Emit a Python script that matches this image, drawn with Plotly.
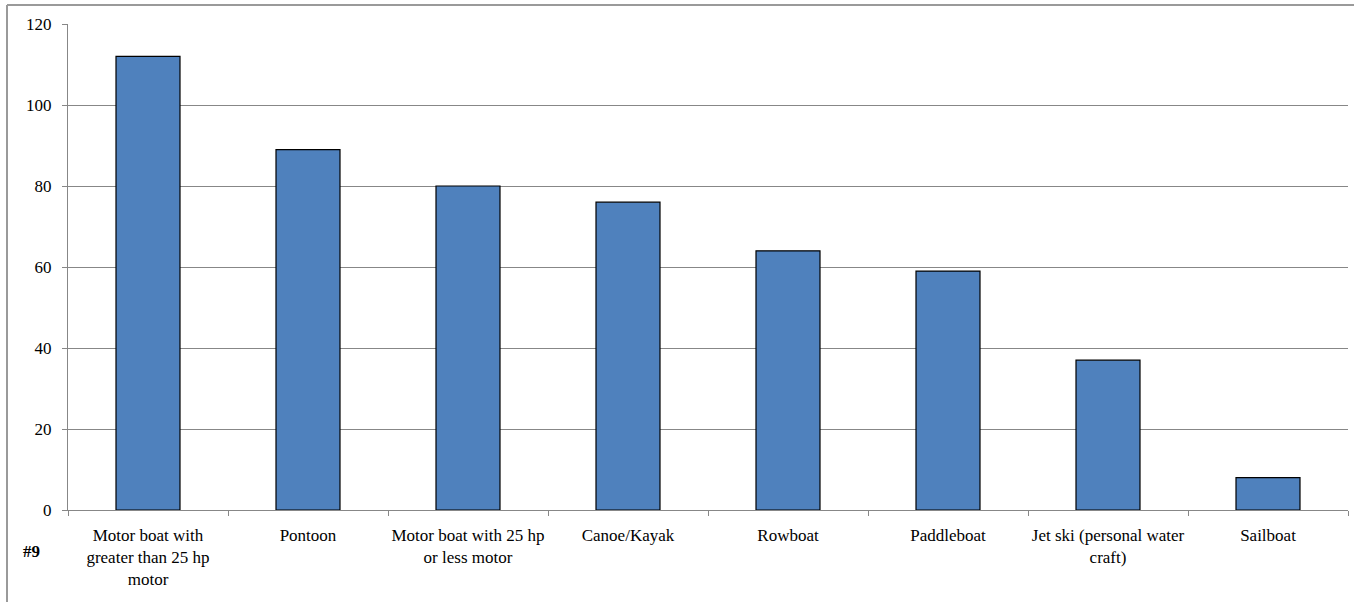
import plotly.graph_objects as go

categories = [
    "Motor boat with<br>greater than 25 hp<br>motor",
    "Pontoon",
    "Motor boat with 25 hp<br>or less motor",
    "Canoe/Kayak",
    "Rowboat",
    "Paddleboat",
    "Jet ski (personal water<br>craft)",
    "Sailboat",
]
values = [112, 89, 80, 76, 64, 59, 37, 8]
y_ticks = [0, 20, 40, 60, 80, 100, 120]

FONT = "Liberation Serif, Times New Roman, serif"
GRAY = "#878787"

fig = go.Figure(go.Bar(
    x=categories, y=values,
    marker=dict(color="#4F81BD", line=dict(color="#000000", width=1.2)),
    width=0.4,
))

L, R, T, B = 68, 6, 24, 92
W, H = 1354, 602
pw, ph = W - L - R, H - T - B

def px(x):
    return (x - L) / pw

def py(y):
    return (H - B - y) / ph

fig.update_layout(
    width=W, height=H,
    margin=dict(l=L, r=R, t=T, b=B, autoexpand=False),
    plot_bgcolor="white", paper_bgcolor="white",
    font=dict(family=FONT, size=17, color="black"),
    showlegend=False,
    bargap=0.6,
    xaxis=dict(
        type="category", range=[-0.5, 7.5], tickson="boundaries",
        ticks="outside", ticklen=5, tickcolor=GRAY, tickangle=0,
        showline=True, linecolor=GRAY, linewidth=1.2, automargin=False,
        showgrid=False, tickfont=dict(family=FONT, size=17),
        ticklabelstandoff=9,
    ),
    yaxis=dict(
        range=[0, 120], tickvals=y_ticks,
        ticks="outside", ticklen=5, tickcolor=GRAY, automargin=False,
        showline=True, linecolor=GRAY, linewidth=1.2,
        showgrid=True, gridcolor=GRAY, gridwidth=1,
        zeroline=False, tickfont=dict(family=FONT, size=17),
        ticklabelstandoff=7,
    ),
    shapes=[
        dict(type="line", xref="paper", yref="paper",
             x0=px(7), x1=px(W + 5), y0=py(5), y1=py(5),
             line=dict(color="#9a9a9a", width=2)),
        dict(type="line", xref="paper", yref="paper",
             x0=px(7), x1=px(7), y0=py(5), y1=py(H + 5),
             line=dict(color="#9a9a9a", width=2)),
    ],
    annotations=[
        dict(text="<b>#9</b>", xref="paper", yref="paper",
             x=px(31), y=py(551), xanchor="center", yanchor="middle",
             showarrow=False,
             font=dict(family=FONT, size=17, color="black")),
    ],
)

fig.write_html("out.html", config={"displayModeBar": False},
               post_script="document.body.style.margin='0';document.body.style.padding='0';")
